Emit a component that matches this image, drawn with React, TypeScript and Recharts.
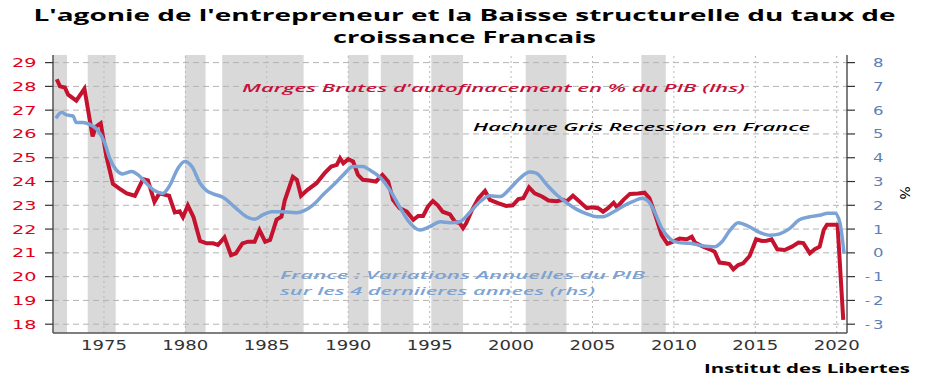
import { ComposedChart, Line, XAxis, YAxis, ReferenceArea, ReferenceLine } from "recharts"

// Marges brutes d'autofinancement, % du PIB (axe gauche)
const margeYears = [
  1972.1, 1972.3, 1972.6, 1972.8, 1973.3, 1973.8, 1974.3, 1974.5, 1974.8, 1975.15,
  1975.55, 1975.95, 1976.4, 1976.9, 1977.4, 1977.7, 1978.1, 1978.4, 1978.7, 1979.0,
  1979.35, 1979.65, 1979.85, 1980.15, 1980.5, 1980.9, 1981.3, 1981.7, 1982.0, 1982.4,
  1982.8, 1983.1, 1983.5, 1983.85, 1984.25, 1984.55, 1984.9, 1985.2, 1985.6, 1985.9,
  1986.1, 1986.4, 1986.6, 1986.85, 1987.1, 1987.5, 1988.05, 1988.55, 1988.95, 1989.3,
  1989.5, 1989.7, 1990.0, 1990.3, 1990.6, 1990.9, 1991.3, 1991.7, 1992.1, 1992.45,
  1992.75, 1993.15, 1993.6, 1994.0, 1994.3, 1994.6, 1994.9, 1995.2, 1995.5, 1995.8,
  1996.25, 1996.55, 1996.85, 1997.05, 1997.25, 1997.6, 1998.0, 1998.4, 1998.7, 1999.2,
  1999.7, 2000.1, 2000.45, 2000.75, 2001.1, 2001.45, 2001.9, 2002.3, 2002.8, 2003.2,
  2003.4, 2003.8, 2004.2, 2004.65, 2004.95, 2005.35, 2005.65, 2005.95, 2006.3, 2006.5,
  2006.9, 2007.3, 2007.8, 2008.2, 2008.5, 2008.85, 2009.25, 2009.6, 2009.95, 2010.35,
  2010.8, 2011.1, 2011.3, 2011.8, 2012.2, 2012.5, 2012.8, 2013.15, 2013.4, 2013.65,
  2013.95, 2014.25, 2014.65, 2015.05, 2015.4, 2015.7, 2016.0, 2016.35, 2016.8, 2017.25,
  2017.65, 2017.95, 2018.35, 2018.65, 2018.95, 2019.2, 2019.4, 2019.9, 2020.05, 2020.4,
]
const margeValues = [
  28.3, 28.0, 27.95, 27.65, 27.4, 27.9, 25.9, 26.3, 26.45, 25.05,
  23.9, 23.7, 23.5, 23.4, 24.1, 24.05, 23.15, 23.5, 23.45, 23.4,
  22.7, 22.75, 22.5, 23.0, 22.5, 21.5, 21.4, 21.4, 21.33, 21.65,
  20.9, 20.98, 21.4, 21.47, 21.47, 21.96, 21.47, 21.54, 22.4, 22.52,
  23.2, 23.8, 24.2, 24.07, 23.4, 23.65, 23.93, 24.35, 24.63, 24.7,
  24.98, 24.77, 24.94, 24.84, 24.28, 24.07, 24.04, 24.0, 24.28, 24.0,
  23.23, 22.88, 22.73, 22.39, 22.55, 22.55, 22.95, 23.18, 23.0, 22.73,
  22.62, 22.31, 22.25, 22.04, 22.25, 22.8, 23.3, 23.6, 23.23, 23.09,
  22.97, 23.0, 23.26, 23.3, 23.75, 23.5, 23.37, 23.2, 23.17, 23.23,
  23.16, 23.4, 23.16, 22.88, 22.92, 22.88, 22.73, 22.88, 23.11, 22.92,
  23.23, 23.48, 23.5, 23.53, 23.3, 22.6, 21.75, 21.38, 21.47, 21.6,
  21.57, 21.68, 21.43, 21.26, 21.15, 21.05, 20.59, 20.56, 20.53, 20.31,
  20.49, 20.56, 20.87, 21.57, 21.5, 21.51, 21.57, 21.15, 21.12, 21.26,
  21.43, 21.41, 20.98, 21.15, 21.26, 21.96, 22.18, 22.18, 22.18, 18.18,
]

// France : variations annuelles du PIB sur 4 ans, % (axe droit)
const pibYears = [
  1972.05, 1972.4, 1972.7, 1973.1, 1973.3, 1973.7, 1974.1, 1974.6, 1975.05, 1975.35,
  1975.75, 1976.15, 1976.7, 1977.1, 1977.6, 1978.1, 1978.6, 1979.0, 1979.55, 1979.95,
  1980.4, 1980.9, 1981.3, 1981.7, 1982.3, 1983.1, 1983.75, 1984.25, 1984.75, 1985.3,
  1986.0, 1986.8, 1987.3, 1987.85, 1988.45, 1989.1, 1989.7, 1990.3, 1990.9, 1991.3,
  1991.95, 1992.55, 1993.15, 1993.8, 1994.4, 1995.0, 1995.65, 1996.25, 1996.85, 1997.5,
  1998.1, 1998.7, 1999.35, 1999.95, 2000.55, 2001.15, 2001.55, 2002.2, 2002.8, 2003.4,
  2004.0, 2004.65, 2005.25, 2005.65, 2006.3, 2006.9, 2007.5, 2008.05, 2008.45, 2008.85,
  2009.25, 2009.8, 2010.3, 2011.0, 2011.8, 2012.5, 2012.95, 2013.45, 2013.95, 2014.55,
  2015.3, 2015.9, 2016.5, 2017.1, 2017.7, 2018.35, 2018.95, 2019.45, 2019.9, 2020.2,
  2020.45,
]
const pibValues = [
  5.66, 5.91, 5.8, 5.76, 5.48, 5.48, 5.41, 5.17, 4.61, 3.98,
  3.49, 3.32, 3.42, 3.28, 2.93, 2.62, 2.5, 2.79, 3.56, 3.84,
  3.63, 2.93, 2.62, 2.48, 2.34, 1.88, 1.52, 1.41, 1.6, 1.73,
  1.73, 1.69, 1.78, 2.02, 2.44, 2.86, 3.28, 3.63, 3.63, 3.49,
  3.18, 2.65, 1.94, 1.25, 0.96, 1.1, 1.31, 1.27, 1.31, 1.73,
  2.16, 2.4, 2.37, 2.72, 3.14, 3.4, 3.35, 2.86, 2.44, 2.11,
  1.84, 1.64, 1.52, 1.52, 1.73, 1.97, 2.16, 2.3, 2.16, 1.67,
  1.04, 0.57, 0.43, 0.4, 0.29, 0.26, 0.47, 0.96, 1.27, 1.13,
  0.85, 0.74, 0.8, 1.02, 1.39, 1.52, 1.58, 1.67, 1.67, 1.25,
  -0.04,
]

// Hachure gris : recessions en France
const recessions = [
  [1971.8, 1972.73], [1974.0, 1975.72], [1979.98, 1981.24], [1982.26, 1987.26],
  [1990.0, 1991.24], [1992.0, 1994.0], [1995.1, 1997.05], [2000.9, 2003.4], [2008.0, 2009.5],
]

const yearTicks = [1975, 1980, 1985, 1990, 1995, 2000, 2005, 2010, 2015, 2020]
const leftTicks = [18, 19, 20, 21, 22, 23, 24, 25, 26, 27, 28, 29]
const rightTicks = [-3, -2, -1, 0, 1, 2, 3, 4, 5, 6, 7, 8]

const margeData = margeYears.map((year, i) => ({ year, value: margeValues[i] }))
const pibData = pibYears.map((year, i) => ({ year, value: pibValues[i] }))

const RED = "#c4122f"
const BLUE = "#7ba3d5"
const FRAME = "#555"

function LeftTick({ x, y, payload }: any) {
  const label = String(payload.value)
  return (
    <text x={x} y={y} dy="0.36em" textAnchor="end" fontFamily="DejaVu Sans" fontSize={12.5}
      fill="#e2001a" textLength={label.length * 12.2} lengthAdjust="spacingAndGlyphs">
      {label}
    </text>
  )
}

function RightTick({ x, y, payload }: any) {
  const v = payload.value
  const digit = String(Math.abs(v))
  return (
    <g>
      {v < 0 && (
        <text x={x + 10} y={y} dy="0.36em" fontFamily="DejaVu Sans" fontSize={12.5}
          fill="#5d7fb6" textLength={5} lengthAdjust="spacingAndGlyphs">-</text>
      )}
      <text x={x + 28.5} y={y} dy="0.36em" textAnchor="end" fontFamily="DejaVu Sans" fontSize={12.5}
        fill="#5d7fb6" textLength={10.5} lengthAdjust="spacingAndGlyphs">
        {digit}
      </text>
    </g>
  )
}

function YearTick({ x, y, payload }: any) {
  return (
    <text x={x} y={y + 12} dy="0.36em" textAnchor="middle" fontFamily="DejaVu Sans" fontSize={13.5}
      fill="#333" textLength={46} lengthAdjust="spacingAndGlyphs">
      {payload.value}
    </text>
  )
}

export default function App() {
  const xDomain = [1971.87, 2020.63]
  return (
    <div style={{ position: "absolute", left: 0, top: 0, width: 930, height: 387, background: "#fff" }}>
      <ComposedChart width={930} height={387} margin={{ top: 55, right: 0, bottom: 0, left: 0 }}>
        <XAxis xAxisId="x" type="number" dataKey="year" domain={xDomain} ticks={yearTicks}
          allowDataOverflow interval={0} height={54} tickSize={0} tickMargin={0} tickLine={false}
          tick={YearTick} axisLine={{ stroke: FRAME, strokeWidth: 1.5 }} />
        <XAxis xAxisId="top" orientation="top" type="number" domain={xDomain} allowDataOverflow
          height={0} tick={false} tickLine={false} axisLine={{ stroke: FRAME, strokeWidth: 1.5 }} />
        <YAxis yAxisId="left" orientation="left" width={53} domain={[17.63, 29.32]} ticks={leftTicks}
          allowDataOverflow interval={0} tickSize={8} tickMargin={8.5} tick={LeftTick}
          axisLine={{ stroke: FRAME, strokeWidth: 1.5 }} tickLine={{ stroke: "#333", strokeWidth: 1.2 }} />
        <YAxis yAxisId="right" orientation="right" width={83} domain={[-3.37, 8.32]} ticks={rightTicks}
          allowDataOverflow interval={0} tickSize={8} tickMargin={0} tick={RightTick}
          axisLine={{ stroke: FRAME, strokeWidth: 1.5 }} tickLine={{ stroke: "#333", strokeWidth: 1.2 }} />

        {recessions.map(([a, b]) => (
          <ReferenceArea key={a} xAxisId="x" yAxisId="left" x1={a} x2={b} fill="#d9d9d9"
            fillOpacity={1} stroke="none" ifOverflow="hidden" />
        ))}
        {leftTicks.map((t) => (
          <ReferenceLine key={"h" + t} xAxisId="x" yAxisId="left" y={t} stroke="#b3b3b3"
            strokeDasharray="6 4" />
        ))}
        {yearTicks.map((t) => (
          <ReferenceLine key={"v" + t} xAxisId="x" yAxisId="left" x={t} stroke="#b8b8b8"
            strokeDasharray="2 3" />
        ))}

        <Line data={margeData} xAxisId="x" yAxisId="left" dataKey="value" type="linear" stroke={RED}
          strokeWidth={4} dot={false} isAnimationActive={false} />
        <Line data={pibData} xAxisId="x" yAxisId="right" dataKey="value" type="monotone" stroke={BLUE}
          strokeWidth={3.5} dot={false} isAnimationActive={false} />
      </ComposedChart>

      <svg width={930} height={387} style={{ position: "absolute", left: 0, top: 0, pointerEvents: "none" }}>
        <g fontFamily="Open Sans" fontWeight={700} fill="#000" fontSize={15.5}>
          <text x={464.5} y={21} textAnchor="middle" textLength={862} lengthAdjust="spacingAndGlyphs">
            L'agonie de l'entrepreneur et la Baisse structurelle du taux de
          </text>
          <text x={464.5} y={42.5} textAnchor="middle" textLength={263} lengthAdjust="spacingAndGlyphs">
            croissance Francais
          </text>
        </g>
        <g fontFamily="Open Sans" fontStyle="italic" fontWeight={600} fontSize={11.5}>
          <text x={242} y={92} fill="#c8103a" textLength={503} lengthAdjust="spacingAndGlyphs">
            Marges Brutes d'autofinacement en % du PIB (lhs)
          </text>
          <text x={473} y={131} fill="#000" textLength={337} lengthAdjust="spacingAndGlyphs">
            Hachure Gris Recession en France
          </text>
          <text x={280} y={279} fill={BLUE} textLength={365} lengthAdjust="spacingAndGlyphs">
            France : Variations Annuelles du PIB
          </text>
          <text x={280} y={294.5} fill={BLUE} textLength={315} lengthAdjust="spacingAndGlyphs">
            sur les 4 derniieres annees (rhs)
          </text>
        </g>
        <text x={704} y={373} fontFamily="Open Sans" fontWeight={700} fontSize={13} fill="#000"
          textLength={206} lengthAdjust="spacingAndGlyphs">
          Institut des Libertes
        </text>
        <text x={0} y={0} transform="translate(900 193) rotate(90)" textAnchor="middle"
          fontFamily="DejaVu Sans" fontSize={14} fill="#000">
          %
        </text>
      </svg>
    </div>
  )
}
